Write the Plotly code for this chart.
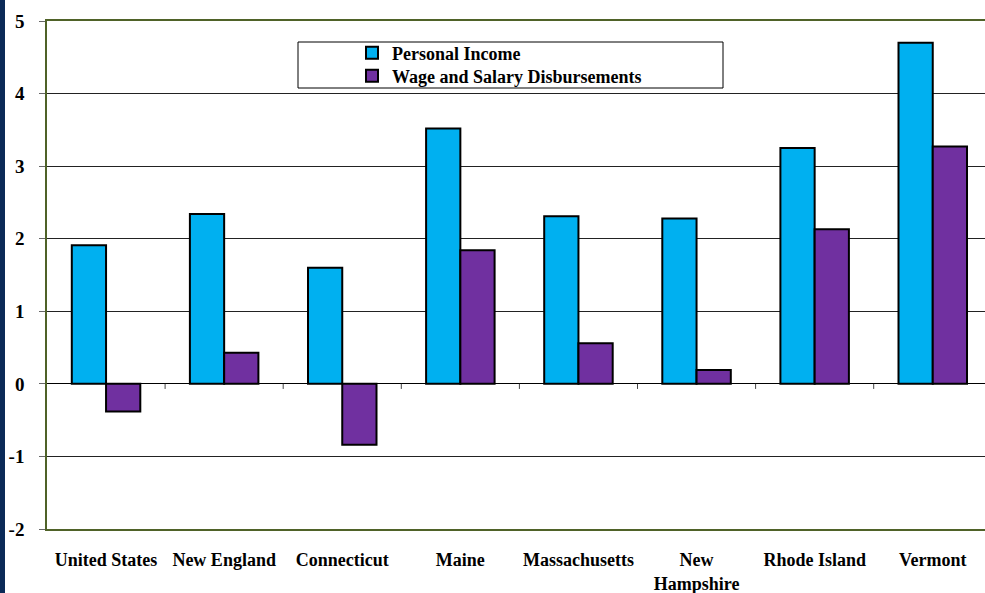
import plotly.graph_objects as go

categories = ["United States", "New England", "Connecticut", "Maine",
              "Massachusetts", "New<br>Hampshire", "Rhode Island", "Vermont"]
personal_income = [1.91, 2.34, 1.60, 3.52, 2.31, 2.28, 3.25, 4.70]
wage_salary = [-0.38, 0.43, -0.84, 1.84, 0.56, 0.19, 2.13, 3.27]
y_ticks = [-2, -1, 0, 1, 2, 3, 4, 5]

FONT = "Liberation Serif, Times New Roman, serif"
W, H = 985, 593
ML, MT, MB = 47, 21, 64
PW = W - ML
PH = H - MT - MB
cat_w = 118.1
x_end = -0.5 + PW / cat_w

def px_x(px):
    return (px - ML) / PW

def px_y(py):
    return 1 - (py - MT) / PH

fig = go.Figure()
fig.add_trace(go.Bar(name="Personal Income", x=categories, y=personal_income, legend="legend",
                     marker=dict(color="#00B0F0", line=dict(color="black", width=2))))
fig.add_trace(go.Bar(name="Wage and Salary Disbursements", x=categories, y=wage_salary, legend="legend2",
                     marker=dict(color="#7030A0", line=dict(color="black", width=2))))

shapes = []
# category ticks on the zero line
for i in range(len(categories) - 1):
    shapes.append(dict(type="line", xref="x", yref="y", x0=i + 0.5, x1=i + 0.5,
                       y0=0, y1=-0.07, line=dict(color="#444", width=1)))
# legend box
shapes.append(dict(type="rect", xref="paper", yref="paper",
                   x0=px_x(298), x1=px_x(723), y0=px_y(88), y1=px_y(42),
                   line=dict(color="black", width=1), fillcolor="white", layer="below"))
# navy strip at left edge
shapes.append(dict(type="rect", xref="paper", yref="paper",
                   x0=px_x(0), x1=px_x(5), y0=px_y(H + 2), y1=px_y(-2),
                   line=dict(width=0), fillcolor="#0B2A57"))

legend_style = dict(xanchor="left", yanchor="middle", bgcolor="rgba(0,0,0,0)", borderwidth=0,
                    font=dict(family=FONT, size=18, color="black", weight="bold"),
                    itemsizing="constant")

fig.update_layout(
    width=W, height=H,
    margin=dict(l=ML, r=0, t=MT, b=MB, pad=0),
    paper_bgcolor="white", plot_bgcolor="white",
    font=dict(family=FONT, size=18, color="black", weight="bold"),
    barmode="group", bargap=0.42, bargroupgap=0,
    showlegend=True,
    legend=dict(x=px_x(352), y=px_y(53), **legend_style),
    legend2=dict(x=px_x(352), y=px_y(76), **legend_style),
    shapes=shapes,
    xaxis=dict(range=[-0.5, x_end], showgrid=False, showline=True, linecolor="#4F6228",
               linewidth=1.5, mirror=True, ticks="", tickfont=dict(size=18, weight="bold"),
               ticklabelstandoff=14, zeroline=False, fixedrange=True, automargin=False),
    yaxis=dict(range=[-2, 5], tickvals=y_ticks, ticktext=[str(v) for v in y_ticks],
               showgrid=True, gridcolor="#222", gridwidth=1,
               zeroline=True, zerolinecolor="black", zerolinewidth=1,
               showline=True, linecolor="#4F6228", linewidth=1.5,
               ticks="outside", ticklen=6, tickcolor="#666",
               tickfont=dict(size=19, weight="bold"), ticklabelstandoff=11, fixedrange=True,
               automargin=False),
)

fig.write_html("out.html")
